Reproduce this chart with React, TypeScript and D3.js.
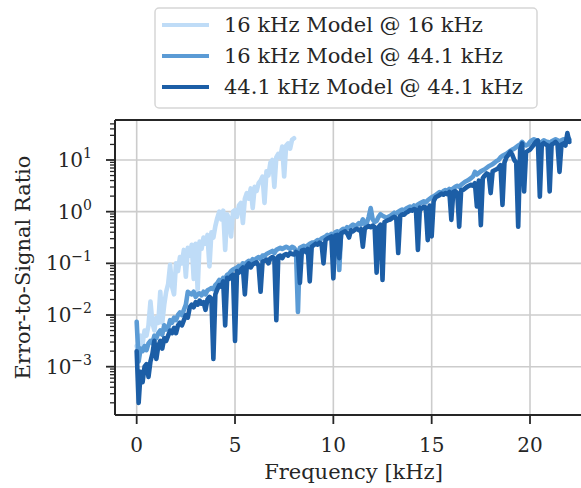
import React from 'react';
import * as d3 from 'd3';

// ---------- data ----------
const FREQ_STEP_KHZ = 0.1; // spacing of samples, kHz
const legendLabels = ['16 kHz Model @ 16 kHz', '16 kHz Model @ 44.1 kHz', '44.1 kHz Model @ 44.1 kHz'];
const seriesColors = ['#bfdcf7', '#5b9bd5', '#1c5ea6'];
const xTicks = [0, 5, 10, 15, 20];
const yTickExps = [-3, -2, -1, 0, 1];
const xLabel = 'Frequency [kHz]';
const yLabel = 'Error-to-Signal Ratio';

// log10 of error-to-signal ratio
const logEsr16at16 = [
  -2.6, -2.75, -2.4, -2.55, -2.3, -2.4, -2.2, -1.74, -2.15, -2.3,
  -2.05, -2.15, -1.55, -2.15, -1.8, -1.55, -1.4, -1.03, -1.45, -1.6,
  -1.0, -1.15, -0.88, -1.0, -0.74, -1.26, -0.7, -0.85, -0.64, -1.3,
  -0.62, -1.52, -0.58, -0.72, -0.5, -0.62, -0.45, -1.06, -0.4, -0.5,
  -0.28, -0.12, 0.0, -0.15, 0.02, -0.74, -0.05, -0.15, -0.48, 0.0,
  0.03, -0.1, 0.12, 0.17, -0.22, 0.25, 0.36, 0.25, 0.45, 0.07,
  0.48, 0.4, 0.55, 0.6, 0.68, 0.17, 0.78, 0.7, 0.95, 1.0,
  0.48, 1.05, 1.12, 1.05, 1.26, 0.68, 1.28, 1.32, 1.22, 1.39,
  1.42,
];

const logEsr16at44 = [
  -2.13, -2.9, -2.65, -2.7, -2.6, -2.68, -2.55, -2.5, -2.55, -2.4,
  -2.45, -2.35, -2.3, -2.38, -2.2, -2.28, -2.25, -2.1, -2.15, -2.05,
  -2.1, -2.0, -1.95, -2.0, -1.9, -1.8, -1.55, -1.58, -1.6, -1.55,
  -1.65, -1.6, -1.58, -1.62, -1.55, -1.6, -1.52, -1.5, -1.48, -1.5,
  -1.42, -1.38, -1.32, -1.35, -1.28, -1.3, -1.22, -1.2, -1.15, -1.12,
  -1.1, -1.08, -1.05, -1.08, -1.0, -1.02, -0.98, -0.95, -0.97, -0.92,
  -0.95, -0.9, -0.88, -0.92, -0.85, -0.86, -0.82, -0.8, -0.78, -0.76,
  -0.8, -0.74, -0.72, -0.7, -0.72, -0.7, -0.68, -0.7, -0.72, -0.68,
  -0.7, -0.75, -1.94, -0.7, -0.68, -0.66, -0.7, -0.65, -0.62, -0.6,
  -0.6, -0.58, -0.55, -0.56, -0.52, -0.5, -0.48, -0.45, -0.47, -0.43,
  -0.45, -0.4, -0.38, -1.13, -0.36, -0.33, -0.35, -0.3, -0.32, -0.28,
  -0.25, -0.28, -0.26, -0.22, -0.25, -0.15, -0.24, -0.22, -0.1, 0.07,
  -0.15, -0.2, -0.18, -0.1, -0.05, -0.08, -0.1, -0.12, -0.1, -0.08,
  -0.05, -0.02, -0.04, 0.0, 0.02, 0.04, 0.02, 0.06, 0.08, 0.1,
  0.08, 0.12, 0.1, 0.14, 0.16, 0.18, 0.2, 0.18, 0.22, 0.25,
  0.28, 0.3, 0.32, 0.35, 0.38, 0.36, 0.4, 0.42, 0.4, 0.44,
  0.42, 0.45, 0.48, 0.5, 0.48, 0.52, 0.55, 0.58, 0.6, 0.62,
  0.65, 0.68, 0.77, 0.72, 0.75, 0.78, 0.8, 0.82, 0.85, 0.88,
  0.9, 0.92, 0.95, 0.98, 1.0, 1.05, 1.08, 1.1, 1.12, 1.15,
  1.18, 1.2, 1.22, 1.25, 1.28, 1.3, 1.35, 1.3, 1.28, 1.3,
  1.35, 1.38, 1.4, 1.38, 1.35, 1.32, 1.35, 1.38, 1.36, 1.35,
  1.33, 1.36, 1.38, 1.4, 1.38, 1.36, 1.38, 1.4, 1.36, 1.45,
  1.4,
];

const logEsr44at44 = [
  -2.7, -3.7, -3.1, -3.3, -3.0, -2.95, -3.2, -2.9, -2.75, -2.5,
  -2.85, -2.6, -2.5, -2.65, -2.45, -2.5, -2.4, -2.3, -2.35, -2.25,
  -2.35, -2.2, -2.15, -2.2, -2.1, -2.0, -2.05, -1.85, -1.8, -1.85,
  -1.75, -1.8, -1.72, -1.78, -1.75, -1.9, -1.7, -1.65, -1.68, -2.85,
  -1.6, -1.5, -1.42, -1.45, -1.35, -2.2, -1.28, -1.3, -1.25, -1.22,
  -2.5, -1.15, -1.18, -1.12, -1.08, -1.6, -1.05, -1.0, -1.08, -1.02,
  -1.0, -0.98, -1.05, -1.55, -0.97, -0.95, -0.93, -1.0, -0.9, -0.88,
  -0.9, -2.1, -0.87, -0.85, -0.9, -0.84, -0.82, -0.85, -0.8, -0.82,
  -0.83, -0.78, -0.8, -1.38, -0.75, -0.74, -0.78, -0.72, -1.35, -0.68,
  -0.65, -0.62, -0.64, -0.6, -0.62, -1.0, -0.55, -0.52, -0.5, -0.48,
  -1.29, -0.46, -0.45, -0.9, -0.42, -0.4, -0.38, -0.42, -0.5, -0.36,
  -0.38, -0.35, -0.33, -0.36, -0.34, -0.68, -0.32, -0.3, -0.28, -0.3,
  -0.27, -0.3, -1.18, -0.3, -0.25, -1.32, -0.2, -0.18, -0.16, -0.15,
  -0.12, -0.1, -0.13, -0.8, -0.08, -0.05, -0.06, -0.02, 0.0, 0.03,
  0.02, 0.05, 0.04, -0.74, 0.08, 0.06, 0.1, 0.08, -0.55, 0.12,
  -0.48, 0.2, 0.28, 0.3, 0.32, 0.35, 0.33, 0.36, 0.34, 0.38,
  -0.16, 0.38, 0.4, 0.36, -0.29, 0.42, 0.42, 0.45, 0.48, 0.5,
  0.52, 0.5, 0.55, 0.1, 0.6, -0.26, 0.65, 0.7, 0.74, 0.72,
  0.36, 0.78, 0.8, 0.82, 0.85, 0.9, 0.13, 0.95, 1.05, 1.1,
  1.16, 1.1, 1.0, 0.95, -0.29, 1.2, 1.32, 0.39, 1.15, 1.18,
  1.2, 1.25, 1.3, 1.35, 1.38, 0.29, 1.3, 1.33, 1.3, 1.28,
  0.39, 1.3, 1.32, 1.35, 1.3, 0.77, 1.3, 1.32, 1.28, 1.52,
  1.35,
];

const allSeries = [logEsr16at16, logEsr16at44, logEsr44at44];

// ---------- layout ----------
const W = 581;
const H = 488;
const L = 115, T = 120, B = 415, R = 592;
const FONT = '"DejaVu Serif", serif';
const TEXT = '#262626';
const FS = 21;
const TICK_FS = 20;

export default function App() {
  const x = d3.scaleLinear().domain([-1.1025, 23.1525]).range([L, R]);
  const y = d3.scaleLog().domain([Math.pow(10, -3.935), Math.pow(10, 1.774)]).range([B, T]);

  const line = d3
    .line<number>()
    .x((_, i) => x(i * FREQ_STEP_KHZ))
    .y((v) => y(Math.pow(10, v)));

  const [y0, y1] = y.domain();
  const minor: number[] = [];
  for (let e = -4; e <= 1; e++) {
    for (let m = 2; m <= 9; m++) {
      const v = m * Math.pow(10, e);
      if (v >= y0 && v <= y1) minor.push(v);
    }
  }

  const legendX = 155, legendY = 8, legendW = 382, legendH = 100;
  const rowY = [25, 56, 87];

  return (
    <svg width={W} height={H} style={{ position: 'absolute', left: 0, top: 0, background: '#fff' }} fontFamily={FONT}>
      <defs>
        <clipPath id="plotclip">
          <rect x={L} y={T} width={R - L} height={B - T} />
        </clipPath>
      </defs>
      <rect x={0} y={0} width={W} height={H} fill="#fff" />
      {/* grid */}
      {xTicks.map((t) => (
        <line key={'gx' + t} x1={x(t)} x2={x(t)} y1={T} y2={B} stroke="#cccccc" strokeWidth={1.6} />
      ))}
      {yTickExps.map((e) => (
        <line key={'gy' + e} x1={L} x2={R} y1={y(Math.pow(10, e))} y2={y(Math.pow(10, e))} stroke="#cccccc" strokeWidth={1.6} />
      ))}
      {/* series */}
      <g clipPath="url(#plotclip)">
        {allSeries.map((s, k) => (
          <path
            key={'s' + k}
            d={line(s) || ''}
            fill="none"
            stroke={seriesColors[k]}
            strokeWidth={4.6}
            strokeLinejoin="round"
            strokeLinecap="round"
          />
        ))}
      </g>
      {/* spines */}
      <line x1={L} x2={R} y1={T} y2={T} stroke={TEXT} strokeWidth={2} />
      <line x1={L} x2={R} y1={B} y2={B} stroke={TEXT} strokeWidth={2} />
      <line x1={L} x2={L} y1={T} y2={B} stroke={TEXT} strokeWidth={2} />
      {/* x ticks */}
      {xTicks.map((t) => (
        <g key={'xt' + t}>
          <line x1={x(t)} x2={x(t)} y1={B} y2={B + 9} stroke={TEXT} strokeWidth={1.8} />
          <text x={x(t)} y={B + 37} textAnchor="middle" fontSize={TICK_FS} fill={TEXT}>
            {t}
          </text>
        </g>
      ))}
      {/* y ticks */}
      {minor.map((v, i) => (
        <line key={'ym' + i} x1={L - 5} x2={L} y1={y(v)} y2={y(v)} stroke={TEXT} strokeWidth={1.3} />
      ))}
      {yTickExps.map((e) => {
        const yy = y(Math.pow(10, e));
        return (
          <g key={'yt' + e}>
            <line x1={L - 9} x2={L} y1={yy} y2={yy} stroke={TEXT} strokeWidth={1.8} />
            <text x={92} y={yy + 7} textAnchor="end" fontSize={TICK_FS} fill={TEXT}>
              10
              <tspan dy={-9} fontSize={14}>
                {e < 0 ? '\u2212' + Math.abs(e) : String(e)}
              </tspan>
            </text>
          </g>
        );
      })}
      {/* axis labels */}
      <text x={(L + R) / 2} y={479} textAnchor="middle" fontSize={FS} fill={TEXT}>
        {xLabel}
      </text>
      <text
        transform={`translate(30, ${(T + B) / 2}) rotate(-90)`}
        textAnchor="middle"
        fontSize={FS}
        fill={TEXT}
      >
        {yLabel}
      </text>
      {/* legend */}
      <rect
        x={legendX}
        y={legendY}
        width={legendW}
        height={legendH}
        rx={4}
        fill="#ffffff"
        fillOpacity={0.8}
        stroke="#d6d6d6"
        strokeWidth={1.5}
      />
      {legendLabels.map((lab, k) => (
        <g key={'lg' + k}>
          <line x1={162} x2={209} y1={rowY[k]} y2={rowY[k]} stroke={seriesColors[k]} strokeWidth={4} />
          <text x={224} y={rowY[k] + 7} fontSize={FS} fill={TEXT}>
            {lab}
          </text>
        </g>
      ))}
    </svg>
  );
}
